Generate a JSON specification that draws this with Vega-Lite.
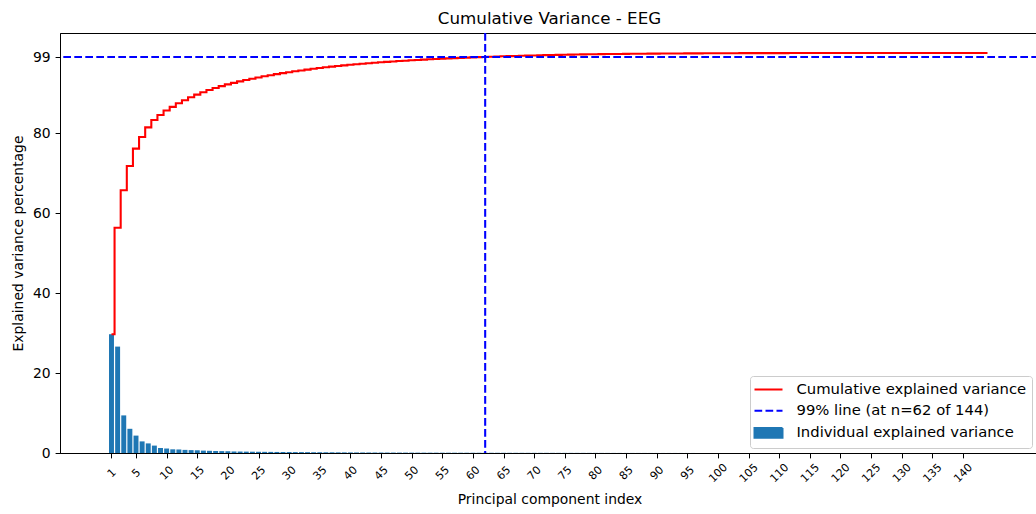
{
 "$schema": "https://vega.github.io/schema/vega-lite/v6.json",
 "width": 979,
 "height": 420,
 "autosize": {"type": "none"},
 "padding": {"left": 60, "top": 33, "right": 0, "bottom": 61},
 "background": "white",
 "title": {"text": "Cumulative Variance - EEG", "fontSize": 16.7, "fontWeight": "normal", "color": "#000000", "offset": 8.3, "baseline": "alphabetic", "anchor": "middle", "frame": "group", "dy": 17},
 "config": {
  "font": "DejaVu Sans",
  "view": {"stroke": "#000000", "strokeWidth": 1},
  "axis": {"grid": false, "domainColor": "#000000", "tickColor": "#000000", "labelColor": "#000000", "titleColor": "#000000", "tickSize": 4.9, "domainWidth": 1, "tickWidth": 1, "titleFontWeight": "normal", "labelFlush": false, "labelOverlap": false}
 },
 "datasets": {
  "pca": [
   {"pc":1,"ind":29.7,"cum":29.7},{"pc":2,"ind":26.6,"cum":56.3},{"pc":3,"ind":9.4,"cum":65.7},{"pc":4,"ind":6.05,"cum":71.75},{"pc":5,"ind":4.35,"cum":76.1},
   {"pc":6,"ind":2.9,"cum":79.0},{"pc":7,"ind":2.4,"cum":81.4},{"pc":8,"ind":1.85,"cum":83.25},{"pc":9,"ind":1.25,"cum":84.5},{"pc":10,"ind":1.12,"cum":85.62},
   {"pc":11,"ind":0.92,"cum":86.54},{"pc":12,"ind":0.88,"cum":87.42},{"pc":13,"ind":0.78,"cum":88.2},{"pc":14,"ind":0.72,"cum":88.92},{"pc":15,"ind":0.68,"cum":89.6},
   {"pc":16,"ind":0.6,"cum":90.2},{"pc":17,"ind":0.55,"cum":90.75},{"pc":18,"ind":0.5,"cum":91.25},{"pc":19,"ind":0.47,"cum":91.72},{"pc":20,"ind":0.44,"cum":92.16},
   {"pc":21,"ind":0.382,"cum":92.54},{"pc":22,"ind":0.363,"cum":92.91},{"pc":23,"ind":0.343,"cum":93.25},{"pc":24,"ind":0.324,"cum":93.57},{"pc":25,"ind":0.305,"cum":93.88},
   {"pc":26,"ind":0.291,"cum":94.17},{"pc":27,"ind":0.277,"cum":94.45},{"pc":28,"ind":0.262,"cum":94.71},{"pc":29,"ind":0.248,"cum":94.96},{"pc":30,"ind":0.239,"cum":95.19},
   {"pc":31,"ind":0.229,"cum":95.42},{"pc":32,"ind":0.219,"cum":95.64},{"pc":33,"ind":0.21,"cum":95.85},{"pc":34,"ind":0.2,"cum":96.05},{"pc":35,"ind":0.191,"cum":96.24},
   {"pc":36,"ind":0.181,"cum":96.42},{"pc":37,"ind":0.172,"cum":96.6},{"pc":38,"ind":0.162,"cum":96.76},{"pc":39,"ind":0.153,"cum":96.91},{"pc":40,"ind":0.143,"cum":97.05},
   {"pc":41,"ind":0.134,"cum":97.19},{"pc":42,"ind":0.129,"cum":97.32},{"pc":43,"ind":0.124,"cum":97.44},{"pc":44,"ind":0.119,"cum":97.56},{"pc":45,"ind":0.114,"cum":97.67},
   {"pc":46,"ind":0.11,"cum":97.78},{"pc":47,"ind":0.105,"cum":97.89},{"pc":48,"ind":0.1,"cum":97.99},{"pc":49,"ind":0.095,"cum":98.08},{"pc":50,"ind":0.091,"cum":98.18},
   {"pc":51,"ind":0.086,"cum":98.26},{"pc":52,"ind":0.083,"cum":98.34},{"pc":53,"ind":0.08,"cum":98.42},{"pc":54,"ind":0.077,"cum":98.5},{"pc":55,"ind":0.074,"cum":98.58},
   {"pc":56,"ind":0.072,"cum":98.65},{"pc":57,"ind":0.069,"cum":98.72},{"pc":58,"ind":0.066,"cum":98.78},{"pc":59,"ind":0.063,"cum":98.85},{"pc":60,"ind":0.06,"cum":98.91},
   {"pc":61,"ind":0.057,"cum":98.96},{"pc":62,"ind":0.055,"cum":99.02},{"pc":63,"ind":0.053,"cum":99.07},{"pc":64,"ind":0.051,"cum":99.12},{"pc":65,"ind":0.049,"cum":99.17},
   {"pc":66,"ind":0.047,"cum":99.22},{"pc":67,"ind":0.045,"cum":99.26},{"pc":68,"ind":0.043,"cum":99.3},{"pc":69,"ind":0.041,"cum":99.34},{"pc":70,"ind":0.04,"cum":99.38},
   {"pc":71,"ind":0.038,"cum":99.42},{"pc":72,"ind":0.037,"cum":99.46},{"pc":73,"ind":0.035,"cum":99.49},{"pc":74,"ind":0.034,"cum":99.53},{"pc":75,"ind":0.032,"cum":99.56},
   {"pc":76,"ind":0.031,"cum":99.59},{"pc":77,"ind":0.03,"cum":99.62},{"pc":78,"ind":0.028,"cum":99.65},{"pc":79,"ind":0.027,"cum":99.67},{"pc":80,"ind":0.026,"cum":99.7},
   {"pc":81,"ind":0.02,"cum":99.72},{"pc":82,"ind":0.019,"cum":99.74},{"pc":83,"ind":0.018,"cum":99.76},{"pc":84,"ind":0.017,"cum":99.77},{"pc":85,"ind":0.016,"cum":99.79},
   {"pc":86,"ind":0.015,"cum":99.8},{"pc":87,"ind":0.014,"cum":99.82},{"pc":88,"ind":0.013,"cum":99.83},{"pc":89,"ind":0.012,"cum":99.84},{"pc":90,"ind":0.011,"cum":99.85},
   {"pc":91,"ind":0.01,"cum":99.86},{"pc":92,"ind":0.01,"cum":99.87},{"pc":93,"ind":0.009,"cum":99.88},{"pc":94,"ind":0.009,"cum":99.89},{"pc":95,"ind":0.008,"cum":99.9},
   {"pc":96,"ind":0.008,"cum":99.91},{"pc":97,"ind":0.007,"cum":99.91},{"pc":98,"ind":0.007,"cum":99.92},{"pc":99,"ind":0.006,"cum":99.93},{"pc":100,"ind":0.006,"cum":99.93},
   {"pc":101,"ind":0.006,"cum":99.94},{"pc":102,"ind":0.005,"cum":99.95},{"pc":103,"ind":0.005,"cum":99.95},{"pc":104,"ind":0.005,"cum":99.96},{"pc":105,"ind":0.005,"cum":99.96},
   {"pc":106,"ind":0.002,"cum":99.96},{"pc":107,"ind":0.002,"cum":99.96},{"pc":108,"ind":0.002,"cum":99.97},{"pc":109,"ind":0.002,"cum":99.97},{"pc":110,"ind":0.002,"cum":99.97},
   {"pc":111,"ind":0.002,"cum":99.97},{"pc":112,"ind":0.002,"cum":99.98},{"pc":113,"ind":0.002,"cum":99.98},{"pc":114,"ind":0.002,"cum":99.98},{"pc":115,"ind":0.002,"cum":99.98},
   {"pc":116,"ind":0.001,"cum":99.99},{"pc":117,"ind":0.001,"cum":99.99},{"pc":118,"ind":0.001,"cum":99.99},{"pc":119,"ind":0.001,"cum":99.99},{"pc":120,"ind":0.001,"cum":99.99},
   {"pc":121,"ind":0.001,"cum":99.99},{"pc":122,"ind":0.001,"cum":99.99},{"pc":123,"ind":0.001,"cum":99.99},{"pc":124,"ind":0.001,"cum":99.99},{"pc":125,"ind":0.001,"cum":99.99},
   {"pc":126,"ind":0.001,"cum":99.99},{"pc":127,"ind":0.001,"cum":99.99},{"pc":128,"ind":0.001,"cum":99.99},{"pc":129,"ind":0.001,"cum":99.99},{"pc":130,"ind":0.001,"cum":99.99},
   {"pc":131,"ind":0.0004,"cum":100.0},{"pc":132,"ind":0.0004,"cum":100.0},{"pc":133,"ind":0.0004,"cum":100.0},{"pc":134,"ind":0.0004,"cum":100.0},{"pc":135,"ind":0.0004,"cum":100.0},
   {"pc":136,"ind":0.0004,"cum":100.0},{"pc":137,"ind":0.0004,"cum":100.0},{"pc":138,"ind":0.0004,"cum":100.0},{"pc":139,"ind":0.0004,"cum":100.0},{"pc":140,"ind":0.0004,"cum":100.0},
   {"pc":141,"ind":0.0004,"cum":100.0},{"pc":142,"ind":0.0004,"cum":100.0},{"pc":143,"ind":0.0004,"cum":100.0},{"pc":144,"ind":0.0004,"cum":100.0}
  ]
 },
 "layer": [
  {
   "data": {"name": "pca"},
   "mark": {"type": "bar", "size": 4.95},
   "encoding": {
    "x": {"field": "pc", "type": "quantitative", "title": "Principal component index",
      "scale": {"domain": [-6.59, 151.59], "nice": false, "zero": false},
      "axis": {"values": [1,5,10,15,20,25,30,35,40,45,50,55,60,65,70,75,80,85,90,95,100,105,110,115,120,125,130,135,140], "tickCount": 60,
        "labelAngle": -45, "labelAlign": "center", "labelBaseline": "middle", "labelPadding": 15, "labelFontSize": 11, "labelOverlap": false,
        "titleFontSize": 13.9, "titleY": 50, "titleBaseline": "alphabetic"}},
    "y": {"field": "ind", "type": "quantitative", "title": "Explained variance percentage",
      "scale": {"domain": [0, 105], "nice": false},
      "axis": {"values": [0,20,40,60,80,99], "tickCount": 20, "labelFontSize": 13.9, "labelPadding": 4.9, "titleFontSize": 13.9, "titleX": -38, "titleBaseline": "alphabetic", "labelOverlap": false}},
    "color": {"datum": "Individual explained variance",
      "scale": {"domain": ["Cumulative explained variance", "99% line (at n=62 of 144)", "Individual explained variance"], "range": ["#ff0000", "#0000ff", "#1f77b4"]},
      "legend": {"title": null, "orient": "none", "legendX": 690, "legendY": 343, "padding": 5.5, "rowPadding": 6.2,
        "labelFontSize": 14.8, "labelColor": "#000000", "labelLimit": 400, "symbolSize": 196, "labelOffset": 20, "symbolOffset": 5,
        "strokeColor": "#cccccc", "fillColor": "rgba(255,255,255,0.8)", "cornerRadius": 3,
        "encode": {"symbols": {"update": {
          "shape": {"signal": "datum.value === 'Individual explained variance' ? 'M-2,-0.7H2V0.7H-2Z' : 'M-2,0H2'"},
          "fill": {"signal": "datum.value === 'Individual explained variance' ? '#1f77b4' : 'transparent'"},
          "stroke": {"signal": "datum.value === 'Individual explained variance' ? 'transparent' : (datum.value === 'Cumulative explained variance' ? '#ff0000' : '#0000ff')"},
          "strokeDash": {"signal": "datum.value === '99% line (at n=62 of 144)' ? [7.7, 3.3] : [1, 0]"},
          "strokeWidth": {"value": 2},
          "opacity": {"value": 1}
        }}}}}
   }
  },
  {
   "data": {"name": "pca"},
   "mark": {"type": "line", "interpolate": "step", "strokeWidth": 2.08},
   "encoding": {
    "x": {"field": "pc", "type": "quantitative"},
    "y": {"field": "cum", "type": "quantitative"},
    "color": {"datum": "Cumulative explained variance"}
   }
  },
  {
   "data": {"values": [{}]},
   "mark": {"type": "rule", "strokeDash": [7.7, 3.3], "strokeWidth": 2.08},
   "encoding": {
    "y": {"datum": 99, "type": "quantitative"},
    "color": {"datum": "99% line (at n=62 of 144)"}
   }
  },
  {
   "data": {"values": [{}]},
   "mark": {"type": "rule", "strokeDash": [7.7, 3.3], "strokeWidth": 2.08},
   "encoding": {
    "x": {"datum": 62, "type": "quantitative"},
    "color": {"datum": "99% line (at n=62 of 144)"}
   }
  }
 ]
}
